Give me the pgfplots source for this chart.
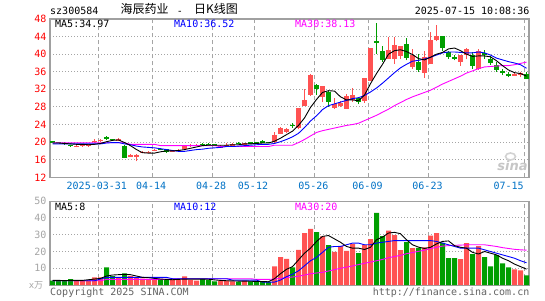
\documentclass[border=0pt]{standalone}
\usepackage{pgfplots}
\usepackage{pgfplotstable}
\pgfplotsset{compat=1.18}
\usepackage{fontspec}
\setmonofont{DejaVu Sans Mono}
\newfontfamily\cjk{Noto Sans CJK SC}
\newfontfamily\wm{DejaVu Sans}
\definecolor{upred}{RGB}{255,82,82}
\definecolor{dngreen}{RGB}{0,158,0}
\definecolor{tickblue}{RGB}{0,114,198}
\definecolor{framegray}{RGB}{160,160,160}
\definecolor{gridgray}{RGB}{165,165,165}
\definecolor{footgray}{RGB}{100,100,100}
\definecolor{volgray}{RGB}{165,165,165}
\definecolor{mablue}{RGB}{0,0,255}
\definecolor{mamag}{RGB}{255,0,255}
\newcommand\mf{\ttfamily\fontsize{10}{12}\selectfont}

% up (red) candles: index open close low high volume
\pgfplotstableread{
i o c l h v
4 19.05 19.1 18.8 19.4 2.6
5 19.25 19.3 19.0 19.5 2.6
6 19.25 19.3 19.0 19.5 2.6
7 20.1 20.2 19.8 20.6 4.6
8 20.4 20.5 20.1 20.8 4.6
11 20.5 20.6 20.2 20.9 4.6
13 16.9 17.0 16.6 17.4 5.4
14 16.9 17.0 15.6 17.3 4.6
15 17.7 17.8 17.5 18.0 3.8
16 17.7 17.8 17.5 17.9 3.4
17 18.1 18.2 17.9 18.5 3.0
20 17.9 18.1 17.8 18.2 3.0
21 18.1 18.3 18.0 18.5 3.0
22 18.5 19.1 18.4 19.2 5.2
23 19.2 19.3 19.0 19.5 3.0
24 19.2 19.3 19.1 19.5 2.6
28 18.8 19.2 18.7 19.3 2.6
29 19.2 19.4 19.0 19.7 2.6
30 19.3 19.6 19.2 19.7 2.2
32 19.5 19.8 19.4 19.9 2.6
37 20.0 21.6 19.9 22.2 11.2
38 21.9 23.2 21.8 23.4 16.6
39 22.3 23.0 22.0 23.3 15.6
41 23.1 27.7 22.9 27.7 21
42 28.3 29.6 28.3 32.1 31
43 30.7 35.3 30.6 35.4 33.4
45 30.3 32.8 29.2 32.8 29
47 27.7 28.6 27.5 30.1 19.8
48 28.3 28.9 28.1 29.4 23.4
49 27.6 30.4 27.6 31.0 20.4
50 29.6 30.7 29.1 32.3 24.4
52 29.4 34.6 28.9 34.6 23.8
53 33.9 41.3 33.9 41.5 27.4
56 38.9 41.0 38.9 43.8 32.4
57 38.8 42.1 37.8 43.9 29.8
58 39.5 41.8 38.9 41.8 20.8
60 37.1 39.8 36.7 41.1 22
62 35.8 39.3 34.6 40.8 22.4
63 37.8 43.3 37.8 45.1 29.4
64 43.3 44.1 42.9 46.6 31
68 38.3 39.7 37.4 39.7 15.4
69 39.8 41.2 38.8 41.4 25
71 36.7 40.8 36.5 41.2 23.2
77 35.1 35.6 35.1 35.8 9.4
78 35.2 35.8 34.7 35.9 8.8
}\upT

% down (green) candles
\pgfplotstableread{
i o c l h v
0 20.15 20.05 19.9 20.3 2.6
1 20.0 19.95 19.9 20.05 2.6
2 19.9 19.5 19.4 19.95 2.6
3 19.35 19.25 19.0 19.4 3.6
9 21.0 20.9 20.5 21.4 10.6
10 20.7 20.6 20.4 20.8 5.4
12 19.2 16.5 16.4 19.3 7.0
18 18.5 18.3 18.1 18.6 3.0
19 18.4 17.8 17.6 18.5 3.6
25 19.6 19.5 19.3 19.9 3.6
26 19.6 19.4 19.3 19.7 3.0
27 19.4 19.3 19.2 19.5 2.2
31 19.8 19.7 19.6 20.1 2.0
33 19.9 19.8 19.7 20.0 2.2
34 19.9 19.8 19.7 20.0 1.8
35 20.3 19.8 19.7 20.4 1.8
36 20.0 19.9 19.7 20.1 1.8
40 23.9 23.8 23.3 24.4 10.6
44 33.1 32.1 30.7 33.3 31.6
46 31.5 29.1 28.1 31.6 23.8
51 30.0 29.1 28.6 30.2 19
54 43.0 42.7 40.1 47.0 43
55 40.8 38.6 38.2 41.9 29.2
59 42.3 39.1 38.6 43.7 25.6
61 38.2 36.3 35.9 40.1 22.2
65 44.1 41.3 40.8 44.1 25.2
66 40.6 39.3 39.0 40.8 16
67 39.2 39.1 38.6 39.8 16
70 39.8 37.3 36.7 40.4 18.4
72 40.3 39.7 39.0 41.0 16.6
73 38.9 38.0 37.6 39.5 11.2
74 37.6 36.5 36.0 38.2 17.8
75 36.0 35.9 35.2 36.7 13
76 35.4 35.3 34.7 36.0 10.6
79 35.6 34.4 34.3 35.9 5.8
}\dnT

% moving averages: price MA5 MA10 MA30, volume MA5 MA10 MA30
\pgfplotstableread{
i m5 m10 m30 v5 v10 v30
0 19.8 19.6 19.85 2.8 2.6 2.6
1 19.8 19.6 19.85 2.8 2.6 2.6
2 19.7 19.6 19.85 2.7 2.6 2.6
3 19.6 19.6 19.85 2.8 2.6 2.6
4 19.5 19.6 19.85 2.8 2.6 2.6
5 19.5 19.6 19.85 2.8 2.6 2.6
6 19.4 19.6 19.85 3.2 2.6 2.6
7 19.5 19.6 19.85 3.6 2.6 2.6
8 19.7 19.6 19.85 4.0 3.6 2.6
9 20.1 19.8 19.85 5.4 4.6 3.4
10 20.4 19.9 19.85 6.0 4.6 3.4
11 20.5 19.9 19.85 6.2 4.6 3.4
12 19.9 19.6 19.85 6.4 4.6 3.4
13 19.2 19.4 19.5 6.2 4.6 3.4
14 18.3 19.1 19.5 5.4 4.6 3.4
15 17.6 18.9 19.5 4.6 4.6 3.4
16 17.5 18.8 19.5 4.4 4.6 3.4
17 17.5 18.7 19.5 4.0 4.6 3.4
18 17.8 18.5 19.2 3.6 4.6 3.4
19 18.0 18.3 19.2 3.4 4.6 3.4
20 18.0 18.1 19.2 3.2 3.8 3.8
21 18.1 17.9 19.2 3.4 3.8 3.8
22 18.3 17.9 19.2 3.6 3.8 3.8
23 18.6 18.1 19.2 3.6 3.8 3.8
24 18.9 18.3 19.2 3.6 3.8 3.8
25 19.2 18.4 19.2 3.6 3.8 3.8
26 19.3 18.6 19.2 3.5 3.8 3.8
27 19.3 18.7 19.2 3.1 3.8 3.8
28 19.3 18.8 19.0 2.8 3.8 3.8
29 19.3 19.0 19.0 2.6 3.8 3.8
30 19.4 19.0 19.0 2.5 3.0 3.8
31 19.4 19.1 19.0 2.4 3.0 3.8
32 19.6 19.2 19.0 2.4 3.0 3.8
33 19.6 19.3 19.0 2.3 3.0 3.8
34 19.7 19.4 19.0 2.2 3.0 3.4
35 19.8 19.5 19.0 2.1 1.8 3.4
36 19.8 19.5 19.0 2.0 1.8 3.4
37 20.2 19.7 19.3 3.8 1.8 3.6
38 20.9 20.1 19.3 6.8 3.0 4.0
39 21.7 20.6 19.3 9.4 5.0 4.5
40 22.5 21.2 19.3 11.0 6.5 4.8
41 23.8 22.0 19.9 15.0 8.5 5.3
42 25.5 23.3 20.6 19.0 11.5 6.0
43 27.9 24.8 21.4 22.0 14.5 6.8
44 29.7 26.0 22.2 26.0 16.5 7.2
45 31.3 27.4 22.6 29.0 19.5 7.6
46 31.7 28.3 22.9 29.5 22.5 8.4
47 31.6 28.7 23.2 27.5 23.0 9.2
48 30.3 29.1 23.5 25.5 23.0 10.0
49 29.6 29.5 23.8 23.0 24.0 10.7
50 29.6 29.9 24.0 22.0 25.0 11.4
51 29.4 30.1 24.3 22.0 25.0 12.2
52 30.7 30.6 24.9 21.2 24.0 13.0
53 33.3 31.4 25.5 22.5 24.0 13.7
54 35.6 32.3 26.1 27.0 25.0 14.5
55 37.7 33.4 26.8 28.6 25.5 15.3
56 40.0 34.6 27.5 31.0 26.0 16.3
57 40.8 35.8 28.3 31.4 26.5 17.0
58 41.0 36.9 29.0 30.6 26.5 17.7
59 40.6 37.7 29.7 27.0 26.5 18.7
60 39.9 38.4 30.3 24.0 26.5 19.4
61 39.0 38.6 30.8 22.6 26.5 20.1
62 38.7 38.9 31.3 21.8 26.5 20.8
63 39.3 39.3 31.8 22.5 26.5 21.7
64 40.0 39.8 32.5 24.5 26.0 22.5
65 40.4 40.3 33.2 26.0 25.0 23.2
66 41.2 40.5 33.8 26.3 24.0 23.5
67 41.4 40.5 34.4 23.5 23.0 23.7
68 40.8 40.4 35.0 22.5 22.0 23.8
69 40.0 40.3 35.7 22.0 22.0 24.0
70 39.5 40.3 36.2 19.5 22.0 24.0
71 39.6 40.5 36.7 18.5 22.0 24.0
72 39.6 40.3 37.1 20.0 21.0 24.0
73 39.4 39.8 37.2 19.0 20.0 23.5
74 38.5 39.1 37.3 18.0 19.0 23.0
75 37.4 38.7 37.4 16.0 18.0 22.3
76 36.4 38.3 37.4 14.5 17.0 21.8
77 35.8 38.0 37.6 12.5 16.0 21.3
78 35.6 37.6 37.9 11.0 14.5 21.0
79 35.0 36.8 38.2 9.5 13.3 20.8
}\maT

\tikzset{
  vgrid/.style={draw=gridgray, line width=1pt, dash pattern=on 4pt off 3pt},
  hgrid/.style={draw=gridgray, line width=1pt, dash pattern=on 1pt off 2pt},
}
\pgfplotsset{
  kstyle/.style={
    scale only axis, width=479pt, xmin=-0.4167, xmax=79.4167,
    axis line style={framegray, line width=1.2pt},
    major tick length=0pt,
    xtick=\empty,
    yticklabel style={font=\mf, anchor=east, inner sep=0pt, xshift=-3.5pt},
    /pgf/number format/assume math mode=true,
    no markers,
  },
  wick/.style={draw=none, mark=none, forget plot,
    error bars/.cd, y dir=plus, y explicit, error mark=none,
    error bar style={draw=#1, line width=1pt, solid}},
  body/.style={draw=none, mark=none, forget plot,
    error bars/.cd, y dir=both, y explicit, error mark=none,
    error bar style={draw=#1, line width=5pt, solid}},
}

\begin{document}
\begin{tikzpicture}
\useasboundingbox (0pt,0pt) rectangle (545pt,300pt);
\fill[white] (0pt,0pt) rectangle (545pt,300pt);

% grid lines (plain TikZ, behind the plots)
\foreach \gx in {98.3,152.3,212.3,254.3,314.3,368.3,428.3,524.3} {
  \draw[vgrid] (\gx pt,122.7pt) -- (\gx pt,281pt);
  \draw[vgrid] (\gx pt,14.9pt) -- (\gx pt,98.9pt);
}
\foreach \gy in {140.3,157.9,175.5,193.1,210.6,228.2,245.8,263.4,31.7,48.5,65.3,82.1}
  \draw[hgrid] (50pt,\gy pt) -- (529pt,\gy pt);

% price panel
\begin{axis}[kstyle, at={(50pt,122.7pt)}, anchor=south west, height=158.3pt,
  ymin=12, ymax=48, ytick={12,16,...,48}, yticklabel style={text=red}]
\addplot[wick=upred] table[x=i, y=l, y error expr=\thisrow{h}-\thisrow{l}] {\upT};
\addplot[wick=dngreen] table[x=i, y=l, y error expr=\thisrow{h}-\thisrow{l}] {\dnT};
\addplot[body=upred] table[x=i, y expr=(\thisrow{o}+\thisrow{c})/2, y error expr={max(abs(\thisrow{o}-\thisrow{c})/2,0.114)}] {\upT};
\addplot[body=dngreen] table[x=i, y expr=(\thisrow{o}+\thisrow{c})/2, y error expr={max(abs(\thisrow{o}-\thisrow{c})/2,0.114)}] {\dnT};
\addplot[mamag, line width=0.9pt] table[x=i, y=m30] {\maT};
\addplot[mablue, line width=0.9pt] table[x=i, y=m10] {\maT};
\addplot[black, line width=0.9pt] table[x=i, y=m5] {\maT};
\end{axis}

% volume panel
\begin{axis}[kstyle, at={(50pt,14.9pt)}, anchor=south west, height=84pt,
  ymin=0, ymax=50, ytick={10,20,...,50}, yticklabel style={text=volgray}]
\addplot[ybar, bar width=5pt, bar shift=0pt, fill=upred, draw=none] table[x=i, y=v] {\upT};
\addplot[ybar, bar width=5pt, bar shift=0pt, fill=dngreen, draw=none] table[x=i, y=v] {\dnT};
\addplot[mamag, line width=0.9pt] table[x=i, y=v30] {\maT};
\addplot[mablue, line width=0.9pt] table[x=i, y=v10] {\maT};
\addplot[black, line width=0.9pt] table[x=i, y=v5] {\maT};
\end{axis}

% header
\node[anchor=base west, inner sep=0] at (50pt,285pt) {\mf sz300584};
\node[anchor=base west, inner sep=0] at (120.5pt,286pt) {\cjk\fontsize{12}{12}\selectfont 海辰药业};
\node[anchor=base, inner sep=0] at (180pt,285pt) {\mf -};
\node[anchor=base west, inner sep=0] at (194pt,286pt) {\cjk\fontsize{12}{12}\selectfont 日K线图};
\node[anchor=base east, inner sep=0] at (529.5pt,285pt) {\mf 2025-07-15 10:08:36};

% legends
\node[anchor=base west, inner sep=0] at (55pt,272.5pt) {\mf MA5:34.97};
\node[anchor=base west, inner sep=0, text=mablue] at (174pt,272.5pt) {\mf MA10:36.52};
\node[anchor=base west, inner sep=0, text=mamag] at (295pt,272.5pt) {\mf MA30:38.13};
\node[anchor=base west, inner sep=0] at (55pt,90pt) {\mf MA5:8};
\node[anchor=base west, inner sep=0, text=mablue] at (174pt,90pt) {\mf MA10:12};
\node[anchor=base west, inner sep=0, text=mamag] at (295pt,90pt) {\mf MA30:20};

% date labels
\foreach \px/\lab in {96.8/2025-03-31, 151.2/04-14, 211.2/04-28, 253/05-12, 313.3/05-26, 367.5/06-09, 427.5/06-23, 508.7/07-15}
  \node[anchor=base, inner sep=0, text=tickblue] at (\px pt,110.7pt) {\mf \lab};

% unit label and footer
\node[inner sep=0, text=volgray] at (36pt,14.5pt) {\ttfamily\fontsize{9}{9}\selectfont x{\cjk 万}};
\node[anchor=base west, inner sep=0, text=footgray] at (50pt,4.4pt) {\mf Copyright 2025 SINA.COM};
\node[anchor=base east, inner sep=0, text=footgray] at (529.5pt,4.4pt) {\mf http://finance.sina.com.cn};

% watermark
\draw[gray!35, line width=1.6pt] (510.5pt,143.5pt) ellipse (5pt and 3.5pt);
\node[inner sep=0, text=gray!45] at (512.5pt,134pt) {\wm\bfseries\itshape\fontsize{13}{13}\selectfont sina};
\end{tikzpicture}
\end{document}
